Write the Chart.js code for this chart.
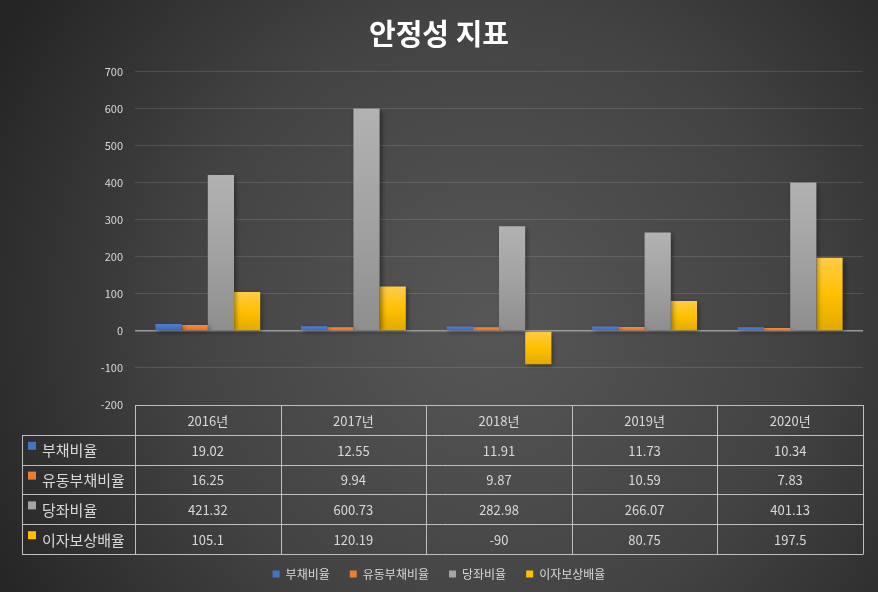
<!DOCTYPE html>
<html>
<head>
<meta charset="utf-8">
<script src="https://cdn.jsdelivr.net/npm/chart.js@4/dist/chart.umd.min.js"></script>
<style>
  html,body{margin:0;padding:0;background:#333;}
  #wrap{width:878px;height:592px;}
</style>
</head>
<body>
<div id="wrap"><canvas id="chart"></canvas></div>
<script>
// 데이터
const years = ['2016년', '2017년', '2018년', '2019년', '2020년'];
const seriesNames = ['부채비율', '유동부채비율', '당좌비율', '이자보상배율'];
const debtRatio = [19.02, 12.55, 11.91, 11.73, 10.34];
const currentDebtRatio = [16.25, 9.94, 9.87, 10.59, 7.83];
const quickRatio = [421.32, 600.73, 282.98, 266.07, 401.13];
const interestCoverage = [105.1, 120.19, -90, 80.75, 197.5];
const yMin = -200, yMax = 700, yStep = 100;

const FONT = "'Noto Sans CJK KR', 'Noto Sans', sans-serif";
const TXT = '#d9d9d9';
const solid = ['#4472c4', '#ed7d31', '#a5a5a5', '#ffc000'];
// 막대 그라데이션 (위, 가운데, 아래)
const grads = [
    ['#5080d0', '#4472c4', '#3a64b0'],
    ['#f58a40', '#ed7d31', '#d86c22'],
    ['#b2b2b2', '#a2a2a2', '#8e8e8e'],
    ['#ffcc48', '#ffc000', '#e2aa00']
];

function barGradient(c, i){
    const chart = c.chart;
    if(!chart.chartArea || c.parsed === undefined) return solid[i];
    const y = chart.scales.y;
    const top = y.getPixelForValue(Math.max(c.parsed.y, 0));
    const bot = y.getPixelForValue(Math.min(c.parsed.y, 0));
    if(!isFinite(top) || !isFinite(bot) || top === bot) return solid[i];
    const g = chart.ctx.createLinearGradient(0, top, 0, bot);
    g.addColorStop(0, grads[i][0]);
    g.addColorStop(0.5, grads[i][1]);
    g.addColorStop(1, grads[i][2]);
    return g;
}

const allData = [debtRatio, currentDebtRatio, quickRatio, interestCoverage];

// 배경 (방사형 그라데이션)
const bgPlugin = {
    id: 'bg',
    beforeDraw(chart){
        const ctx = chart.ctx;
        ctx.save();
        const g = ctx.createRadialGradient(490, 320, 0, 490, 320, 560);
        g.addColorStop(0, '#575757');
        g.addColorStop(0.55, '#434343');
        g.addColorStop(1, '#252525');
        ctx.fillStyle = g;
        ctx.fillRect(0, 0, chart.width, chart.height);
        ctx.restore();
    }
};

// 막대 그림자
const shadowPlugin = {
    id: 'shadow',
    beforeDatasetsDraw(chart){
        const ctx = chart.ctx;
        ctx.save();
        ctx.shadowColor = 'rgba(0,0,0,0.45)';
        ctx.shadowBlur = 5;
        ctx.shadowOffsetX = 2;
        ctx.shadowOffsetY = 2;
    },
    afterDatasetsDraw(chart){
        chart.ctx.restore();
    }
};

// 데이터 표
const tablePlugin = {
    id: 'dataTable',
    afterDraw(chart){
        const ctx = chart.ctx;
        const area = chart.chartArea;
        const x = chart.scales.x;
        const n = years.length;
        const colW = (area.right - area.left) / n;
        const rowH = 29.8;
        const top = area.bottom;
        const labelLeft = 22;
        ctx.save();
        ctx.strokeStyle = '#bfbfbf';
        ctx.lineWidth = 1;
        ctx.beginPath();
        // 가로선
        ctx.moveTo(area.left, top + 0.5); ctx.lineTo(area.right, top + 0.5);
        for(let r = 1; r <= seriesNames.length + 1; r++){
            const yy = Math.round(top + r * rowH) + 0.5;
            ctx.moveTo(labelLeft, yy); ctx.lineTo(area.right, yy);
        }
        // 세로선
        const bottom = Math.round(top + (seriesNames.length + 1) * rowH) + 0.5;
        ctx.moveTo(labelLeft + 0.5, Math.round(top + rowH) + 0.5); ctx.lineTo(labelLeft + 0.5, bottom);
        for(let c = 0; c <= n; c++){
            const xx = Math.round(area.left + c * colW) + 0.5;
            ctx.moveTo(xx, top); ctx.lineTo(xx, bottom);
        }
        ctx.stroke();

        ctx.fillStyle = TXT;
        ctx.textAlign = 'center';
        ctx.textBaseline = 'middle';
        ctx.font = '13px ' + FONT;
        years.forEach((yr, i) => {
            ctx.fillText(yr, x.getPixelForValue(i), top + rowH / 2 + 1);
        });
        allData.forEach((arr, r) => {
            const cy = top + (r + 1.5) * rowH + 1;
            arr.forEach((v, i) => {
                ctx.fillText(String(v), x.getPixelForValue(i), cy);
            });
        });
        // 행 머리글
        ctx.textAlign = 'left';
        ctx.font = '15px ' + FONT;
        seriesNames.forEach((nm, r) => {
            const rt = top + (r + 1) * rowH;
            ctx.fillStyle = solid[r];
            ctx.fillRect(28, rt + 7, 8, 8);
            ctx.fillStyle = TXT;
            ctx.fillText(nm, 42, rt + rowH / 2 + 1);
        });
        ctx.restore();
    }
};

new Chart(document.getElementById('chart'), {
    type: 'bar',
    data: {
        labels: years,
        datasets: allData.map((arr, i) => ({
            label: seriesNames[i],
            data: arr,
            backgroundColor: c => barGradient(c, i),
            borderWidth: 0,
            categoryPercentage: 0.72,
            barPercentage: 1
        }))
    },
    options: {
        responsive: true,
        maintainAspectRatio: false,
        animation: false,
        layout: { padding: { top: 8, right: 15, bottom: 2, left: 15 } },
        plugins: {
            title: {
                display: true,
                text: '안정성 지표',
                color: '#ffffff',
                font: { family: FONT, size: 29, weight: 'bold' },
                padding: { top: 9, bottom: 20 }
            },
            legend: {
                position: 'bottom',
                labels: {
                    color: TXT,
                    font: { family: FONT, size: 12 },
                    boxWidth: 7,
                    boxHeight: 7,
                    padding: 20,
                    generateLabels: () => seriesNames.map((nm, i) => ({
                        text: nm,
                        fillStyle: solid[i],
                        strokeStyle: solid[i],
                        lineWidth: 0,
                        fontColor: TXT,
                        datasetIndex: i
                    }))
                }
            },
            tooltip: { enabled: false }
        },
        scales: {
            x: {
                grid: { display: false },
                border: { display: false },
                ticks: { display: false },
                afterFit(scale){ scale.height = 143; }
            },
            y: {
                min: yMin,
                max: yMax,
                ticks: {
                    stepSize: yStep,
                    color: TXT,
                    font: { family: FONT, size: 11 },
                    padding: 12
                },
                border: { display: false },
                grid: {
                    drawTicks: false,
                    color: c => c.tick && c.tick.value === 0 ? '#9a9a9a' : 'rgba(255,255,255,0.12)',
                    lineWidth: c => c.tick && c.tick.value === 0 ? 1.5 : 1
                },
                afterFit(scale){ scale.width = 120; }
            }
        }
    },
    plugins: [bgPlugin, shadowPlugin, tablePlugin]
});
</script>
</body>
</html>
